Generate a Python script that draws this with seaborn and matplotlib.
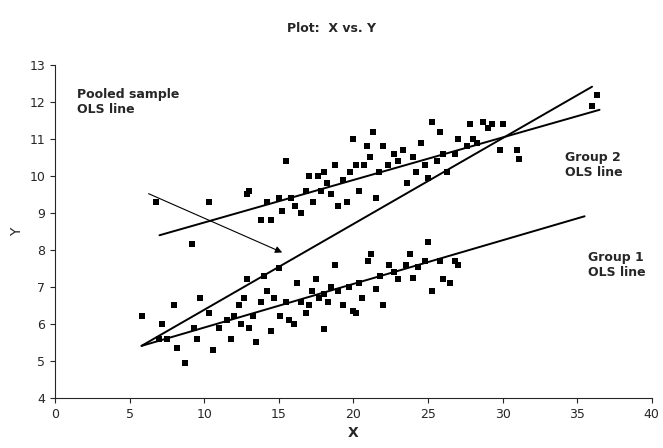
import numpy as np
import pandas as pd
import matplotlib
matplotlib.use("Agg")
import matplotlib.pyplot as plt
import seaborn as sns

# group 1 (lower cloud)
g1_x = [5.8, 7, 7.2, 7.5, 8, 8.2, 8.7, 9.3, 9.5, 9.7, 10.3, 10.6, 11, 11.5, 11.8, 12, 12.3, 12.5,
        12.7, 12.9, 13, 13.3, 13.5, 13.8, 14, 14.2, 14.5, 14.7, 15, 15.1, 15.5, 15.7, 16, 16.2, 16.5,
        16.8, 17, 17.2, 17.5, 17.7, 18, 18, 18.3, 18.5, 18.8, 19, 19.3, 19.7, 20, 20.2, 20.4, 20.6,
        21, 21.2, 21.5, 21.8, 22, 22.4, 22.7, 23, 23.5, 23.8, 24, 24.3, 24.8, 25, 25.3, 25.8, 26,
        26.5, 26.8, 27]
g1_y = [6.2, 5.6, 6.0, 5.6, 6.5, 5.35, 4.95, 5.9, 5.6, 6.7, 6.3, 5.3, 5.9, 6.1, 5.6, 6.2, 6.5, 6.0,
        6.7, 7.2, 5.9, 6.2, 5.5, 6.6, 7.3, 6.9, 5.8, 6.7, 7.5, 6.2, 6.6, 6.1, 6.0, 7.1, 6.6,
        6.3, 6.5, 6.9, 7.2, 6.7, 6.8, 5.85, 6.6, 7.0, 7.6, 6.9, 6.5, 7.0, 6.35, 6.3, 7.1, 6.7,
        7.7, 7.9, 6.95, 7.3, 6.5, 7.6, 7.4, 7.2, 7.6, 7.9, 7.25, 7.55, 7.7, 8.2, 6.9, 7.7, 7.2,
        7.1, 7.7, 7.6]

# group 2 (upper cloud)
g2_x = [6.8, 9.2, 10.3, 12.9, 13, 13.8, 14.2, 14.5, 15, 15.2, 15.5, 15.8, 16.1, 16.5, 16.8, 17,
        17.3, 17.6, 17.8, 18, 18.2, 18.5, 18.8, 19, 19.3, 19.6, 19.8, 20, 20.2, 20.4, 20.7, 20.9,
        21.1, 21.3, 21.5, 21.7, 22, 22.3, 22.7, 23, 23.3, 23.6, 24, 24.2, 24.5, 24.8, 25, 25.3,
        25.6, 25.8, 26, 26.3, 26.8, 27, 27.6, 27.8, 28, 28.3, 28.7, 29, 29.3, 29.8, 30, 31, 31.1,
        36, 36.3]
g2_y = [9.3, 8.15, 9.3, 9.5, 9.6, 8.8, 9.3, 8.8, 9.4, 9.05, 10.4, 9.4, 9.2, 9.0, 9.6, 10.0,
        9.3, 10.0, 9.6, 10.1, 9.8, 9.5, 10.3, 9.2, 9.9, 9.3, 10.1, 11.0, 10.3, 9.6, 10.3, 10.8,
        10.5, 11.2, 9.4, 10.1, 10.8, 10.3, 10.6, 10.4, 10.7, 9.8, 10.5, 10.1, 10.9, 10.3, 9.95, 11.45,
        10.4, 11.2, 10.6, 10.1, 10.6, 11.0, 10.8, 11.4, 11.0, 10.9, 11.45, 11.3, 11.4, 10.7, 11.4, 10.7, 10.45,
        11.9, 12.2]

# OLS lines: (intercept, slope, x range)
line_names = ["group2", "group1", "pooled"]
line_intercepts = [7.59, 4.72, 4.06]
line_slopes = [0.115, 0.118, 0.232]
line_xmin = [7.0, 5.8, 5.8]
line_xmax = [36.5, 35.5, 36.0]

pts = pd.DataFrame({"x": g1_x + g2_x, "y": g1_y + g2_y})

sns.set_style("ticks")
fig = plt.figure(figsize=(6.63, 4.48), dpi=100)
ax = fig.add_axes([0.083, 0.112, 0.9, 0.743])

sns.scatterplot(data=pts, x="x", y="y", marker="s", color="black", s=22, edgecolor="black",
                linewidth=0, ax=ax, legend=False)

for a, b, x0, x1 in zip(line_intercepts, line_slopes, line_xmin, line_xmax):
    xs = np.array([x0, x1])
    ax.plot(xs, a + b * xs, color="black", lw=1.4)

ax.text(1.5, 12.0, "Pooled sample\nOLS line", fontsize=9, fontweight="bold", va="center")
ax.annotate("", xy=(15.4, 7.9), xytext=(6.1, 9.55),
            arrowprops=dict(arrowstyle="-|>", color="black", lw=0.8, mutation_scale=10))
ax.text(34.2, 10.3, "Group 2\nOLS line", fontsize=9, fontweight="bold", va="center")
ax.text(35.7, 7.6, "Group 1\nOLS line", fontsize=9, fontweight="bold", va="center")

ax.set_xlim(0, 40)
ax.set_ylim(4, 13)
ax.set_xticks(range(0, 41, 5))
ax.set_yticks(range(4, 14))
ax.tick_params(labelsize=9)
ax.set_xlabel("X", fontsize=10, fontweight="bold")
ax.set_ylabel("Y", fontsize=10)
sns.despine(ax=ax)
fig.suptitle("Plot:  X vs. Y", fontsize=9, fontweight="bold", y=0.95)

fig.savefig("out.png", dpi=100)
